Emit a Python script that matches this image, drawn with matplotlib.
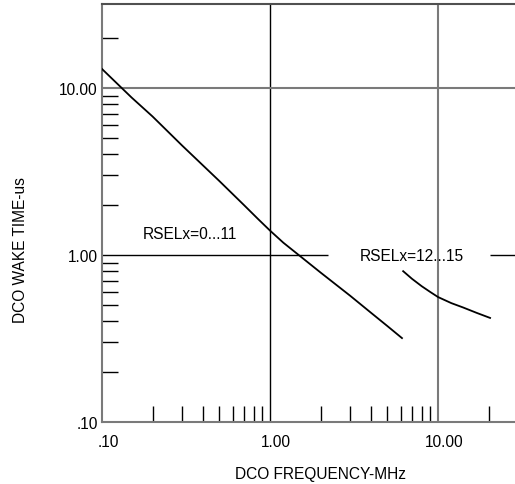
import numpy as np
import matplotlib
matplotlib.use("Agg")
import matplotlib.pyplot as plt
import matplotlib.transforms as mtrans

plt.rcParams['font.family'] = ['Liberation Sans', 'DejaVu Sans']

freq_low = [0.1, 0.15, 0.2, 0.3, 0.5, 0.7, 0.85, 1.0, 1.2, 1.5, 2.0, 3.0, 4.0, 5.0, 6.1]
wake_low = [13.0, 8.77, 6.75, 4.52, 2.77, 1.99, 1.64, 1.40, 1.185, 0.99, 0.785, 0.57, 0.45, 0.375, 0.318]
freq_high = [6.2, 7.0, 8.0, 9.0, 10.0, 12.0, 14.1, 17.0, 20.4]
wake_high = [0.80, 0.72, 0.65, 0.60, 0.56, 0.515, 0.485, 0.45, 0.42]

major_ticks = [0.1, 1.0, 10.0]
x_tick_labels = [".10", "1.00", "10.00"]
y_tick_labels = [".10", "1.00", "10.00"]
minor_ticks = [0.2, 0.3, 0.4, 0.5, 0.6, 0.7, 0.8, 0.9,
               2, 3, 4, 5, 6, 7, 8, 9, 20]

label_low = "RSELx=0...11"
label_high = "RSELx=12...15"

grey = "#7a7a7a"
fs = 11.2

fig = plt.figure(figsize=(5.15, 4.85), dpi=100)
ax = fig.add_axes([102 / 515, 62 / 485, 413 / 515, 418 / 485])
ax.set_xscale("log")
ax.set_yscale("log")
ax.set_xlim(0.1, 10 ** 1.458)
ax.set_ylim(0.1, 10 ** 1.503)

# grid lines (the y=1 line is broken around the right label)
ax.axvline(1.0, color="black", lw=1.0, zorder=1)
ax.axvline(10.0, color=grey, lw=1.5, zorder=1)
ax.axhline(10.0, color=grey, lw=1.5, zorder=1)
ax.hlines(1.0, 0.1, 2.2, color="black", lw=1.0, zorder=1)
ax.hlines(1.0, 20.4, 10 ** 1.458, color="black", lw=1.0, zorder=1)

ax.plot(freq_low, wake_low, color="black", lw=1.3, zorder=3)
ax.plot(freq_high, wake_high, color="black", lw=1.3, zorder=3)

ax.text(0.334, 1.34, label_low, fontsize=fs, ha="center", va="center")
ax.text(6.95, 1.0, label_high, fontsize=fs, ha="center", va="center")

ax.set_xticks(major_ticks)
ax.set_xticklabels(x_tick_labels)
ax.set_yticks(major_ticks)
ax.set_yticklabels(y_tick_labels)
ax.set_xticks(minor_ticks, minor=True)
ax.set_yticks(minor_ticks, minor=True)
ax.xaxis.set_minor_formatter(matplotlib.ticker.NullFormatter())
ax.yaxis.set_minor_formatter(matplotlib.ticker.NullFormatter())

ax.tick_params(which="major", length=0, labelsize=fs)
ax.tick_params(axis="x", which="major", pad=9)
ax.tick_params(axis="y", which="major", pad=3)
ax.tick_params(which="minor", direction="in", length=11.5, width=1.0, color="black")

off = mtrans.ScaledTranslation(6 / 100, 0, fig.dpi_scale_trans)
for lab in ax.get_xticklabels():
    lab.set_transform(lab.get_transform() + off)

for side in ["left", "bottom", "top"]:
    ax.spines[side].set_color(grey)
    ax.spines[side].set_linewidth(1.5)
ax.spines["top"].set_color("#505050")
ax.spines["right"].set_visible(False)

ax.set_xlabel("DCO FREQUENCY-MHz", fontsize=fs)
ax.set_ylabel("DCO WAKE TIME-us", fontsize=fs)
ax.xaxis.set_label_coords(0.53, -0.105)
ax.yaxis.set_label_coords(-0.18, 0.414)

fig.savefig("out.png", dpi=100)
